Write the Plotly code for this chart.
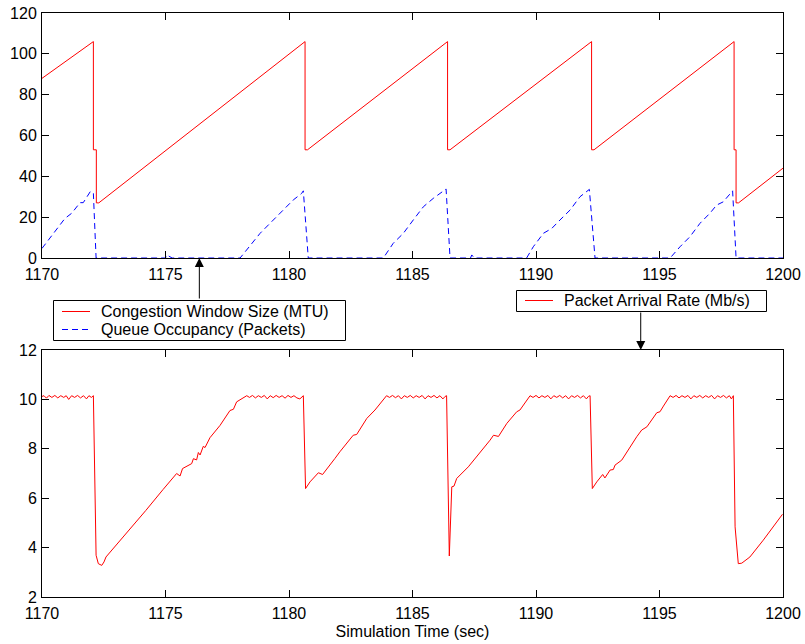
import plotly.graph_objects as go

# ---------------- data ----------------
# Congestion window size (MTU) – sawtooth vertices
cwnd_t = [1170.00, 1172.08, 1172.08, 1172.20, 1172.20, 1172.30,
          1180.65, 1180.65, 1180.75,
          1186.42, 1186.42, 1186.52,
          1192.25, 1192.25, 1192.35,
          1198.02, 1198.02, 1198.10, 1198.10, 1198.20, 1200.00]
cwnd_v = [88, 106, 53, 53, 27, 27,
          106, 53, 53,
          106, 53, 53,
          106, 53, 53,
          106, 53, 53, 27, 27, 44]

# Queue occupancy (packets)
queue_t = [1170.00, 1170.46, 1170.93, 1171.20, 1171.54, 1171.67, 1171.97, 1172.08, 1172.19,
           1175.00, 1175.05, 1175.27, 1178.02, 1178.83, 1179.37, 1180.17, 1180.51, 1180.58, 1180.78,
           1183.82, 1184.22, 1184.63, 1185.03, 1185.44, 1185.84, 1186.36, 1186.52,
           1187.35, 1187.40, 1187.50, 1189.62, 1189.89, 1190.30, 1190.64, 1190.97, 1191.38, 1191.78,
           1192.16, 1192.39,
           1195.43, 1195.83, 1196.23, 1196.64, 1197.04, 1197.31, 1197.58, 1197.96, 1198.10, 1200.00]
queue_v = [4.7, 12.1, 19.4, 21.9, 27.1, 27.1, 32.8, 31.6, 0,
           0, 1.5, 0, 0, 12.1, 18.6, 28.4, 31.6, 32.9, 0,
           0, 7.2, 12.1, 18.6, 25.1, 29.2, 33.8, 0,
           0, 1.5, 0, 0, 5.5, 12.1, 14.5, 18.6, 23.5, 30.0,
           33.6, 0,
           0, 5.5, 10.4, 17.0, 21.9, 25.9, 27.5, 32.9, 0, 0]

# Packet arrival rate (Mb/s)
rate_t = [1170.00, 1170.08, 1170.18, 1170.28, 1170.40, 1170.52, 1170.64, 1170.76, 1170.88, 1170.98,
          1171.08, 1171.20, 1171.32, 1171.44, 1171.56, 1171.68, 1171.80, 1171.90, 1172.00, 1172.08,
          1172.19, 1172.28, 1172.42, 1172.51, 1172.59, 1173.40, 1174.20, 1174.90, 1175.45, 1175.59,
          1175.69, 1176.06, 1176.13, 1176.26, 1176.33, 1176.40, 1176.53, 1176.60, 1176.80, 1177.21,
          1177.34, 1177.61, 1177.75, 1177.88,
          1178.29, 1178.40, 1178.52, 1178.64, 1178.76, 1178.88, 1179.00, 1179.12, 1179.24, 1179.36,
          1179.48, 1179.60, 1179.72, 1179.84, 1179.96, 1180.08, 1180.20, 1180.32, 1180.44, 1180.52,
          1180.58,
          1180.67, 1180.85, 1181.19, 1181.36, 1181.86, 1182.06, 1182.60, 1182.74, 1183.15, 1183.48,
          1183.95, 1184.07, 1184.19, 1184.31, 1184.43, 1184.55, 1184.67, 1184.79, 1184.91, 1185.03,
          1185.15, 1185.27, 1185.39, 1185.51, 1185.63, 1185.75, 1185.87, 1185.99, 1186.11, 1186.23,
          1186.32, 1186.38,
          1186.49, 1186.59, 1186.68, 1186.79, 1187.26, 1187.60, 1188.14, 1188.28, 1188.48, 1188.82,
          1189.22, 1189.35,
          1189.76, 1189.88, 1190.00, 1190.12, 1190.24, 1190.36, 1190.48, 1190.60, 1190.72, 1190.84,
          1190.96, 1191.08, 1191.20, 1191.32, 1191.44, 1191.56, 1191.68, 1191.80, 1191.92, 1192.04,
          1192.12, 1192.19,
          1192.28, 1192.46, 1192.70, 1192.79, 1193.00, 1193.13, 1193.20, 1193.47, 1193.81, 1194.08,
          1194.28, 1194.49, 1194.89, 1195.02, 1195.16,
          1195.43, 1195.55, 1195.67, 1195.79, 1195.91, 1196.03, 1196.15, 1196.27, 1196.39, 1196.51,
          1196.63, 1196.75, 1196.87, 1196.99, 1197.11, 1197.23, 1197.35, 1197.47, 1197.59, 1197.71,
          1197.83, 1197.91, 1197.99,
          1198.06, 1198.19, 1198.33, 1198.39, 1198.66, 1199.20, 1199.74, 1199.98]
rate_v = [10.12, 10.15, 10.05, 10.16, 10.08, 10.16, 10.06, 10.15, 10.08, 10.15,
          10.00, 10.15, 10.08, 10.16, 10.06, 10.15, 10.02, 10.15, 10.08, 10.15,
          3.69, 3.35, 3.28, 3.42, 3.62, 4.55, 5.50, 6.35, 7.00, 6.90,
          7.20, 7.40, 7.60, 7.55, 7.85, 7.75, 8.10, 8.05, 8.45, 8.95,
          9.15, 9.55, 9.60, 9.90,
          10.15, 10.08, 10.16, 10.06, 10.15, 10.08, 10.16, 10.02, 10.15, 10.07,
          10.16, 10.08, 10.15, 10.05, 10.16, 10.08, 10.15, 10.06, 10.02, 10.12,
          10.15,
          6.39, 6.66, 7.03, 6.96, 7.61, 7.88, 8.55, 8.58, 9.23, 9.57,
          10.15, 10.08, 10.16, 10.07, 10.15, 10.02, 10.15, 10.08, 10.16, 10.06,
          10.15, 10.08, 10.16, 10.02, 10.15, 10.08, 10.16, 10.06, 10.15, 10.02,
          10.12, 10.15,
          3.66, 6.46, 6.49, 6.80, 7.27, 7.67, 8.35, 8.55, 8.50, 9.03,
          9.50, 9.57,
          10.15, 10.08, 10.16, 10.06, 10.15, 10.08, 10.16, 10.02, 10.15, 10.08,
          10.16, 10.06, 10.15, 10.02, 10.15, 10.08, 10.16, 10.06, 10.15, 10.02,
          10.12, 10.15,
          6.39, 6.66, 6.96, 6.82, 7.14, 7.16, 7.34, 7.54, 8.08, 8.49,
          8.76, 8.89, 9.46, 9.50, 9.73,
          10.15, 10.08, 10.16, 10.06, 10.15, 10.08, 10.16, 10.02, 10.15, 10.08,
          10.16, 10.06, 10.15, 10.08, 10.16, 10.02, 10.15, 10.08, 10.16, 10.06,
          10.15, 10.02, 10.15,
          4.84, 3.35, 3.37, 3.42, 3.62, 4.30, 5.04, 5.35]

x_ticks = [1170, 1175, 1180, 1185, 1190, 1195, 1200]
top_y_ticks = [0, 20, 40, 60, 80, 100, 120]
bottom_y_ticks = [2, 4, 6, 8, 10, 12]

legend1_labels = ["Congestion Window Size (MTU)", "Queue Occupancy (Packets)"]
legend2_labels = ["Packet Arrival Rate (Mb/s)"]

FONT = "Liberation Sans, Arial, Helvetica, sans-serif"
RED = "#ff0000"
BLUE = "#0000ff"
DASH = "6px,4px"

# ---------------- geometry (page pixels) ----------------
W, H = 805, 644
L, R, T, B = 42, 22, 13, 47
PW, PH = W - L - R, H - T - B


def px(xp):
    return (xp - L) / PW


def py(yp):
    return (H - B - yp) / PH


fig = go.Figure()
fig.add_trace(go.Scatter(x=cwnd_t, y=cwnd_v, mode="lines",
                         line=dict(color=RED, width=1),
                         name=legend1_labels[0], showlegend=False,
                         xaxis="x", yaxis="y"))
fig.add_trace(go.Scatter(x=queue_t, y=queue_v, mode="lines",
                         line=dict(color=BLUE, width=1, dash=DASH),
                         name=legend1_labels[1], showlegend=False,
                         xaxis="x", yaxis="y"))
fig.add_trace(go.Scatter(x=rate_t, y=rate_v, mode="lines",
                         line=dict(color=RED, width=1),
                         name=legend2_labels[0], showlegend=False,
                         xaxis="x2", yaxis="y2"))

# legend key samples, drawn on an invisible full-area pixel axis pair
key_specs = [((62, 90), 311.5, RED, "solid"),
             ((62, 90), 329.5, BLUE, DASH),
             ((525, 553), 300.5, RED, "solid")]
for (x0, x1), yy, col, dsh in key_specs:
    fig.add_trace(go.Scatter(x=[x0, x1], y=[yy, yy], mode="lines",
                             line=dict(color=col, width=1, dash=dsh),
                             showlegend=False, hoverinfo="skip",
                             xaxis="x3", yaxis="y3"))

axis_common = dict(showline=True, linecolor="black", linewidth=1, mirror="ticks",
                   ticks="inside", ticklen=7, tickcolor="black", tickwidth=1,
                   showgrid=False, zeroline=False, automargin=False,
                   ticklabeloverflow="allow",
                   tickfont=dict(family=FONT, size=16, color="black"))

top_dom = [py(258), 1.0]
bot_dom = [0.0, py(350)]

shapes = [
    dict(type="rect", xref="paper", yref="paper",
         x0=px(53.5), x1=px(345.5), y0=py(300.5), y1=py(340.5),
         line=dict(color="black", width=1), fillcolor="rgba(0,0,0,0)", layer="above"),
    dict(type="rect", xref="paper", yref="paper",
         x0=px(516.5), x1=px(766.5), y0=py(290.5), y1=py(311.5),
         line=dict(color="black", width=1), fillcolor="rgba(0,0,0,0)", layer="above"),
]

annotations = []
for lab, yy in zip(legend1_labels, [311.5, 329.5]):
    annotations.append(dict(text=lab, xref="paper", yref="paper", x=px(99), y=py(yy),
                            xanchor="left", yanchor="middle", showarrow=False,
                            font=dict(family=FONT, size=16, color="black")))
annotations.append(dict(text=legend2_labels[0], xref="paper", yref="paper", x=px(562), y=py(300.5),
                        xanchor="left", yanchor="middle", showarrow=False,
                        font=dict(family=FONT, size=16, color="black")))

# arrows linking legends to panels
annotations.append(dict(x=1176.37, y=0, xref="x", yref="y", ax=0, ay=42,
                        axref="pixel", ayref="pixel", text="", showarrow=True,
                        arrowhead=2, arrowsize=1.8, arrowwidth=1, arrowcolor="black", standoff=0))
annotations.append(dict(x=1194.24, y=12, xref="x2", yref="y2", ax=0, ay=-39,
                        axref="pixel", ayref="pixel", text="", showarrow=True,
                        arrowhead=2, arrowsize=1.8, arrowwidth=1, arrowcolor="black", standoff=0))

fig.update_layout(
    width=W, height=H,
    margin=dict(l=L, r=R, t=T, b=B, autoexpand=False),
    paper_bgcolor="white", plot_bgcolor="rgba(0,0,0,0)",
    font=dict(family=FONT, size=16, color="black"),
    showlegend=False,
    xaxis=dict(range=[1170, 1200], tickvals=x_ticks, domain=[0, 1], anchor="y",
               ticklabelstandoff=2, **axis_common),
    yaxis=dict(range=[0, 120], tickvals=top_y_ticks, domain=top_dom, anchor="x",
               ticklabelstandoff=1, **axis_common),
    xaxis2=dict(range=[1170, 1200], tickvals=x_ticks, domain=[0, 1], anchor="y2",
                ticklabelstandoff=2,
                title=dict(text="Simulation Time (sec)", font=dict(family=FONT, size=16), standoff=4),
                **axis_common),
    yaxis2=dict(range=[2, 12], tickvals=bottom_y_ticks, domain=bot_dom, anchor="x2",
                ticklabelstandoff=1, **axis_common),
    xaxis3=dict(range=[L, W - R], domain=[0, 1], anchor="y3", visible=False, fixedrange=True),
    yaxis3=dict(range=[H - B, T], domain=[0, 1], anchor="x3", visible=False, fixedrange=True),
    shapes=shapes,
    annotations=annotations,
)

# remove the browser's default 8 px body margin so the figure sits at the page origin
fig.write_html("out.html", config={"displayModeBar": False},
               post_script="document.body.style.margin='0';")
